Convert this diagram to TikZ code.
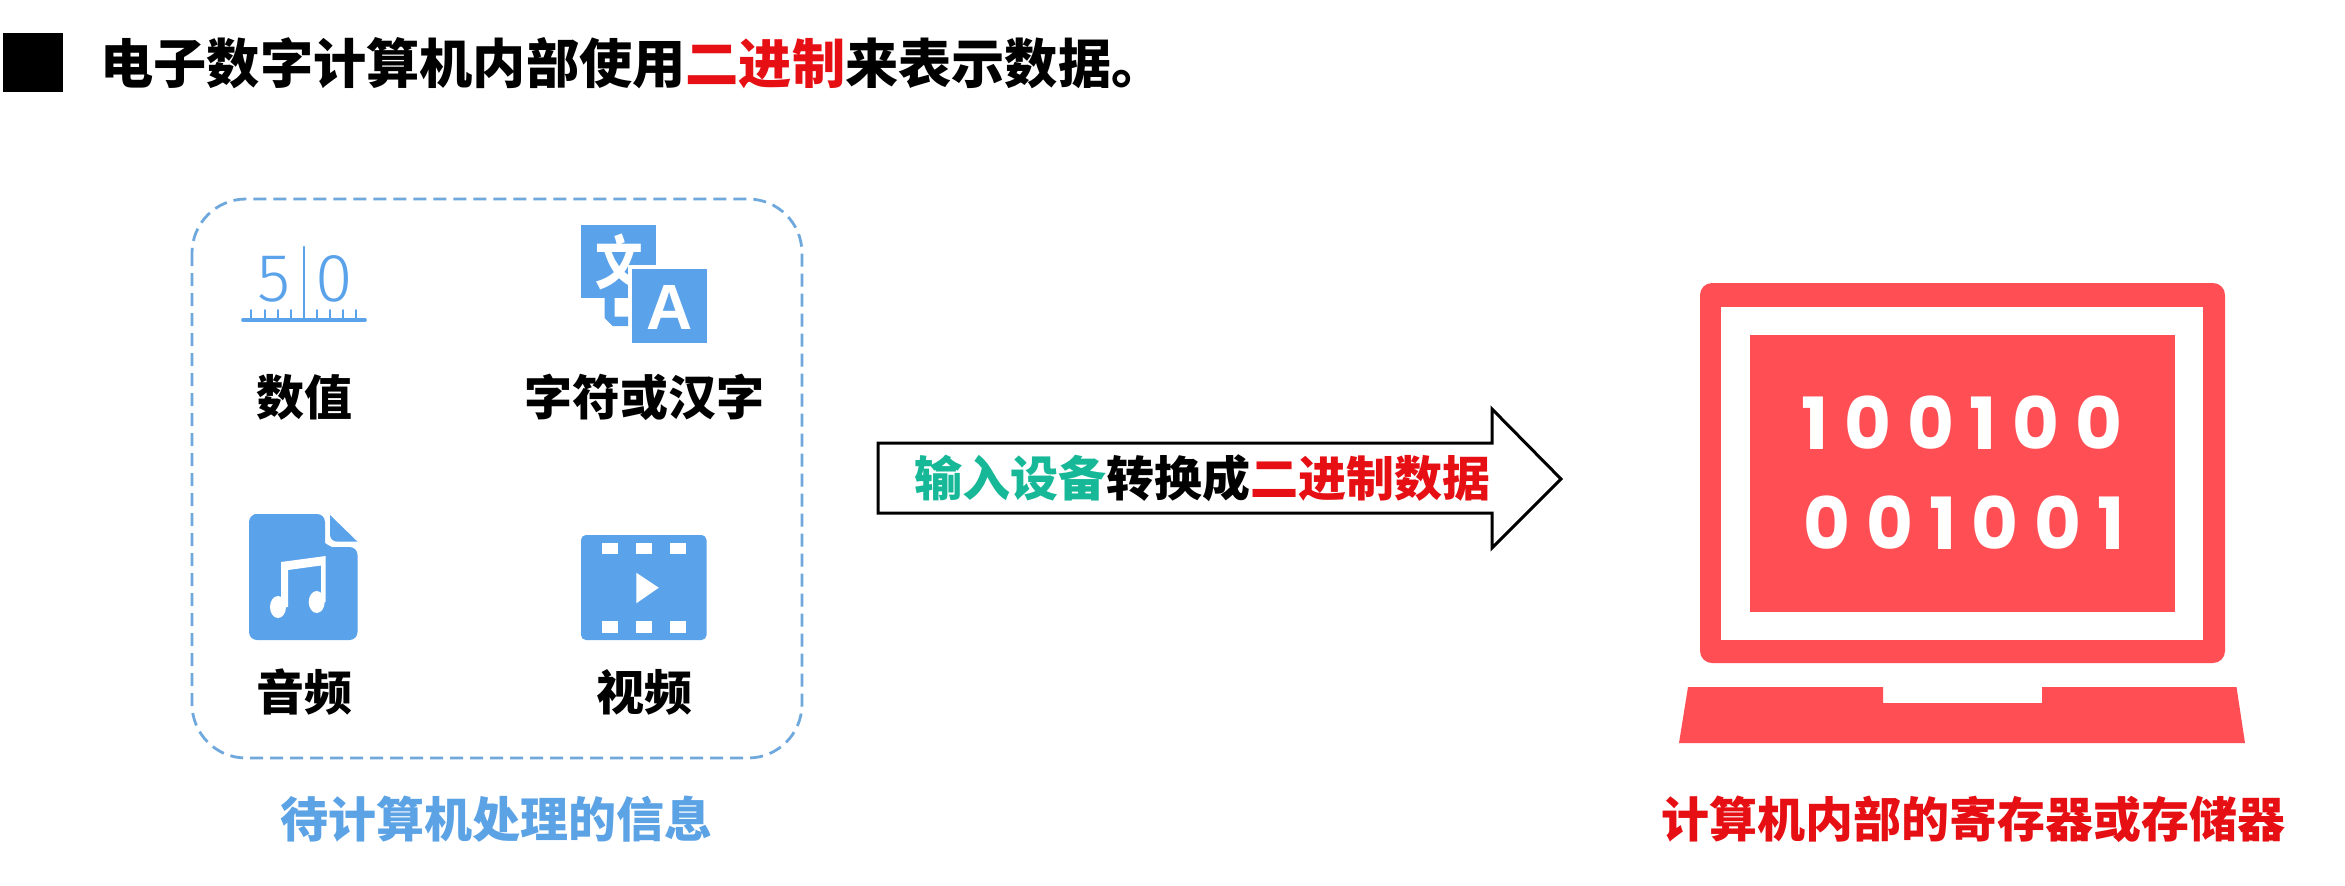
\documentclass[tikz,border=0pt]{standalone}
\usepackage{fontspec}
\setmainfont{Noto Sans CJK SC}
\newfontfamily\digitfont[LetterSpace=22]{Poppins}
\newfontfamily\thinfont{Fira Sans Light}
\newfontfamily\iconlatin{Liberation Sans}
\definecolor{iconblue}{HTML}{5AA2EA}
\definecolor{dashblue}{HTML}{6FA8DC}
\definecolor{labelblue}{HTML}{5CA3E6}
\definecolor{laptopred}{HTML}{FF4F55}
\definecolor{txtred}{HTML}{E60F14}
\definecolor{txtgreen}{HTML}{16B898}
\tikzset{
  lbl/.style={font=\fontsize{24}{28}\selectfont\bfseries,inner sep=0pt,text=black},
  titletxt/.style={font=\fontsize{26.6}{30}\selectfont\bfseries,inner sep=0pt,text=black,anchor=west},
  iconfill/.style={fill=iconblue,draw=none},
  holefill/.style={fill=white,draw=none},
  redfill/.style={fill=laptopred,draw=none},
  bits/.style={font=\digitfont\fontsize{36}{40}\selectfont\bfseries,text=white,inner sep=0pt},
  tickline/.style={draw=iconblue,line width=1.4pt,line cap=round},
  thindigit/.style={font=\thinfont\fontsize{34}{38}\selectfont,text=iconblue,inner sep=0pt}
}
\begin{document}
\begin{tikzpicture}[x=0.5pt,y=-0.5pt]
\useasboundingbox (0,0) rectangle (2345,885);
\fill[white] (0,0) rectangle (2345,885);
% title
\fill[black] (3,33) rectangle (63,92);
\node[titletxt] (title) at (100,63) {电子数字计算机内部使用\textcolor{txtred}{二进制}来表示数据。};
% dashed group
\draw[dashblue,line width=1.4pt,dash pattern=on 6.5pt off 3.5pt,rounded corners=27pt] (192,199) rectangle (802,758);
% 5|0 icon
\node[thindigit] (five) at (274,279) {5};
\node[thindigit] (zero) at (334,279) {0};
\draw[tickline] (304,247) -- (304,320);
\draw[tickline,line width=1.8pt] (243,320) -- (365,320);
\foreach \tx in {251,264.5,278,291,317,330,343,356}{\draw[tickline,line width=1pt] (\tx,310) -- (\tx,320);}
\node[lbl] (num) at (304,397) {数值};
% translate icon
\fill[iconfill] (581,225) rectangle (656,298);
\node[font=\fontsize{27}{30}\selectfont\bfseries,text=white,inner sep=0pt,xscale=0.88,yscale=1.08] (wen) at (619,262) {文};
\fill[white] (628,265) rectangle (710,347);
\fill[iconfill] (632,269) rectangle (706.5,343);
\fill[iconfill] (604.5,298) -- (604.5,318) -- (612.7,326) -- (628,326) -- (628,316.7) -- (614.7,316.7) -- (614.7,298) -- cycle;
\node[font=\iconlatin\fontsize{32}{36}\selectfont\bfseries,text=white,inner sep=0pt] (aa) at (670,307) {A};
\node[lbl] (txt) at (644,397) {字符或汉字};
% music icon
\fill[iconfill,rounded corners=4pt] (325,514) -- (262,514) -- (249,514) -- (249,640) -- (357.5,640) -- (357.5,547) -- (340,547) .. controls (331,547) and (325,543) .. (325,535) -- cycle;
\fill[iconfill] (330,515) -- (357.5,541.7) -- (338,541.7) .. controls (333,541.7) and (330,539) .. (330,534) -- cycle;
\fill[white] (281,562) -- (325.7,556) -- (325.7,602) -- (321,602) -- (321,565.5) -- (288,570) -- (288,607) -- (281,607) -- cycle;
\fill[white] (278,607) ellipse [x radius=8,y radius=11];
\fill[white] (316.7,602) ellipse [x radius=8,y radius=11];
\node[lbl] (aud) at (304,692) {音频};
% film icon
\fill[iconfill,rounded corners=2.5pt] (581,535) rectangle (706.5,640);
\foreach \hx in {601.6,636,670}{
  \fill[holefill] (\hx,542.7) rectangle +(16.3,11.6);
  \fill[holefill] (\hx,620.7) rectangle +(16.3,12);
}
\fill[holefill] (636.3,572.7) -- (636.3,603.3) -- (658.8,587.7) -- cycle;
\node[lbl] (vid) at (644,692) {视频};
\node[lbl,text=labelblue] (src) at (496,819) {待计算机处理的信息};
% block arrow
\draw[black,line width=1.5pt,miter limit=10,fill=white] (878,443) -- (1492,443) -- (1492,409) -- (1561,479) -- (1492,548) -- (1492,513) -- (878,513) -- cycle;
\node[lbl] (conv) at (1202,478) {\textcolor{txtgreen}{输入设备}转换成\textcolor{txtred}{二进制数据}};
% laptop
\fill[redfill,rounded corners=6pt] (1700,283) rectangle (2225,663);
\fill[white] (1721,307) rectangle (2202.5,640);
\fill[redfill] (1750,335) rectangle (2175,612);
\fill[redfill] (1688,687) -- (1883,687) -- (1883,703) -- (2042,703) -- (2042,687) -- (2236.5,687) -- (2245,743) -- (1679,743) -- cycle;
\node[bits] (r1) at (1962,423) {100100};
\node[bits] (r2) at (1964,523) {001001};
\node[lbl,text=txtred] (dst) at (1973.5,819) {计算机内部的寄存器或存储器};
\end{tikzpicture}
\end{document}
